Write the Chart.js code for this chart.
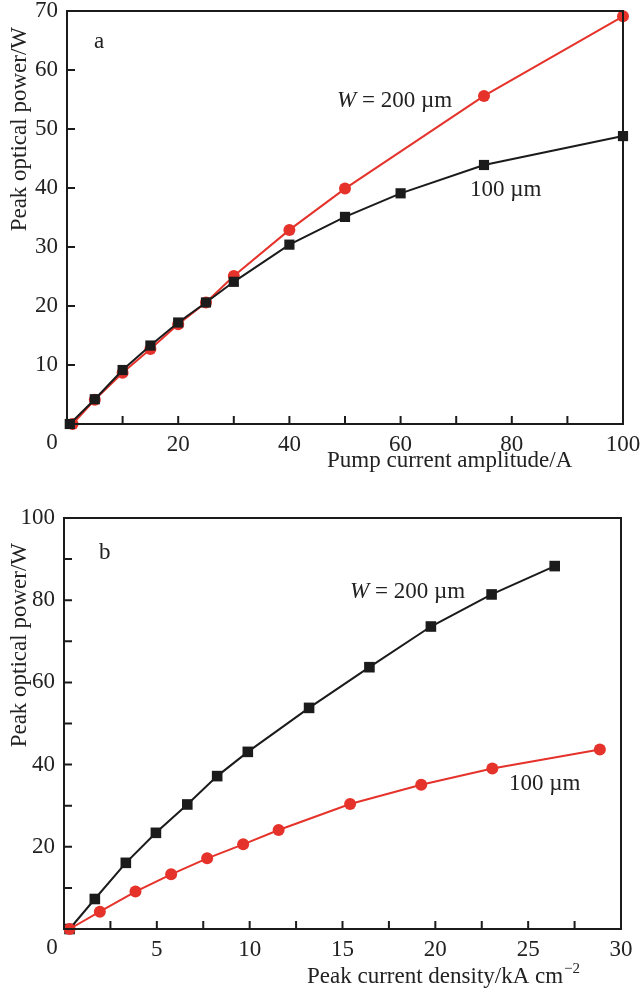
<!DOCTYPE html>
<html>
<head>
<meta charset="utf-8">
<script src="https://cdn.jsdelivr.net/npm/chart.js@4.4.1/dist/chart.umd.min.js"></script>
<style>
  html, body { margin: 0; padding: 0; background: #fff; }
  #wrap { position: relative; width: 640px; height: 990px; }
  .pane { position: absolute; left: 0; width: 640px; height: 495px; }
</style>
</head>
<body>
<div id="wrap">
  <div class="pane" style="top:0"><canvas id="cA" width="640" height="495"></canvas></div>
  <div class="pane" style="top:495px"><canvas id="cB" width="640" height="495"></canvas></div>
</div>
<script>
// ---------- Data: panel a ----------
const aX200 = [1, 5, 10, 15, 20, 25, 30, 40, 50, 75, 100];
const aY200 = [0, 4.1, 8.7, 12.7, 16.9, 20.6, 25.1, 32.9, 39.9, 55.6, 69.1];
const aX100 = [0.5, 5, 10, 15, 20, 25, 30, 40, 50, 60, 75, 100];
const aY100 = [0, 4.2, 9.15, 13.3, 17.2, 20.6, 24.1, 30.4, 35.1, 39.1, 43.9, 48.8];

// ---------- Data: panel b ----------
const bX200 = [0.3, 1.66, 3.33, 4.95, 6.64, 8.25, 9.9, 13.2, 16.45, 19.76, 23.03, 26.43];
const bY200 = [0, 7.3, 16.1, 23.4, 30.3, 37.2, 43.1, 53.8, 63.7, 73.6, 81.4, 88.3];
const bX100 = [0.3, 1.93, 3.85, 5.77, 7.71, 9.65, 11.56, 15.41, 19.24, 23.07, 28.86];
const bY100 = [0, 4.2, 9.1, 13.3, 17.2, 20.6, 24.1, 30.4, 35.1, 39.05, 43.7];

// ---------- Tick label settings ----------
const aXLabels = [20, 40, 60, 80, 100];
const aYLabels = [10, 20, 30, 40, 50, 60, 70];
const bXLabels = [5, 10, 15, 20, 25, 30];
const bYLabels = [20, 40, 60, 80, 100];

const RED = '#e5322a';
const BLACK = '#1b1b1b';
const TXT = '#222222';
const FONT = '"Liberation Serif", "Times New Roman", serif';
const FS = 23;

function pts(xs, ys) { return xs.map((x, i) => ({ x: x, y: ys[i] })); }

function frameTicks(o) {
  return {
    id: 'frameTicks',
    afterDatasetsDraw(chart) {
      const ctx = chart.ctx, a = chart.chartArea;
      const xs = chart.scales.x, ys = chart.scales.y;
      ctx.save();
      ctx.strokeStyle = BLACK;
      ctx.lineWidth = 2;
      ctx.strokeRect(a.left, a.top, a.right - a.left, a.bottom - a.top);
      ctx.beginPath();
      xs.ticks.forEach(t => {
        if (t.value <= xs.min || t.value >= xs.max) return;
        const px = xs.getPixelForValue(t.value);
        ctx.moveTo(px, a.bottom);
        ctx.lineTo(px, a.bottom - 8);
      });
      ys.ticks.forEach(t => {
        if (t.value <= ys.min || t.value >= ys.max) return;
        const py = ys.getPixelForValue(t.value);
        ctx.moveTo(a.left, py);
        ctx.lineTo(a.left + 8, py);
      });
      ctx.stroke();
      ctx.restore();
    },
    afterDraw(chart) {
      const ctx = chart.ctx;
      ctx.save();
      ctx.fillStyle = TXT;
      ctx.font = FS + 'px ' + FONT;
      // origin "0"
      ctx.textAlign = 'center';
      ctx.textBaseline = 'middle';
      ctx.fillText('0', o.zeroX, o.zeroY);
      // panel letter
      ctx.textAlign = 'left';
      ctx.textBaseline = 'alphabetic';
      ctx.fillText(o.letter, o.letterX, o.letterY);
      // x title
      ctx.fillText(o.xTitle, o.xTitleX, o.xTitleY);
      if (o.xSup) {
        const w = ctx.measureText(o.xTitle).width;
        ctx.font = '15px ' + FONT;
        ctx.fillText(o.xSup, o.xTitleX + w + 1, o.xTitleY - 10);
        ctx.font = FS + 'px ' + FONT;
      }
      // series annotations
      o.notes.forEach(n => {
        let x = n.x;
        if (n.italic) {
          ctx.font = 'italic ' + FS + 'px ' + FONT;
          ctx.fillText(n.italic, x, n.y);
          x += ctx.measureText(n.italic).width;
          ctx.font = FS + 'px ' + FONT;
        }
        ctx.fillText(n.text, x, n.y);
      });
      // y title (rotated)
      ctx.translate(o.yTitleX, o.yTitleTop);
      ctx.rotate(-Math.PI / 2);
      ctx.textAlign = 'right';
      ctx.fillText(o.yTitle, 0, 0);
      ctx.restore();
    }
  };
}

function noPad(s) { s.paddingLeft = 0; s.paddingRight = 0; s.paddingTop = 0; s.paddingBottom = 0; }

function makeChart(id, cfg) {
  return new Chart(document.getElementById(id), {
    type: 'line',
    data: { datasets: cfg.datasets },
    options: {
      responsive: false,
      animation: false,
      devicePixelRatio: 1,
      layout: { padding: { top: cfg.padTop, right: cfg.padRight, left: 0, bottom: 0 } },
      plugins: { legend: { display: false }, tooltip: { enabled: false }, title: { display: false } },
      scales: {
        x: {
          type: 'linear', min: cfg.xMin, max: cfg.xMax,
          afterFit: s => { s.height = cfg.xHeight; noPad(s); },
          grid: { display: false, drawTicks: false },
          border: { display: false },
          ticks: {
            stepSize: cfg.xStep, autoSkip: false, maxRotation: 0, padding: 7,
            color: TXT, font: { family: FONT, size: FS },
            callback: v => cfg.xLabels.includes(v) ? String(v) : ''
          }
        },
        y: {
          type: 'linear', min: cfg.yMin, max: cfg.yMax,
          afterFit: s => { s.width = cfg.yWidth; noPad(s); },
          grid: { display: false, drawTicks: false },
          border: { display: false },
          ticks: {
            stepSize: cfg.yStep, autoSkip: false, padding: 9,
            color: TXT, font: { family: FONT, size: FS },
            callback: v => cfg.yLabels.includes(v) ? String(v) : ''
          }
        }
      }
    },
    plugins: [frameTicks(cfg.deco)]
  });
}

function ds(label, data, color, style, r) {
  return {
    label: label, data: data, borderColor: color, backgroundColor: color,
    borderWidth: 2, tension: 0, clip: false,
    pointStyle: style, pointRadius: r, pointBorderWidth: 0, pointHoverRadius: r
  };
}

makeChart('cA', {
  datasets: [
    ds('100 µm', pts(aX100, aY100), BLACK, 'rect', 7.2),
    ds('W = 200 µm', pts(aX200, aY200), RED, 'circle', 6)
  ],
  xMin: 0, xMax: 100, xStep: 10, xLabels: aXLabels,
  yMin: 0, yMax: 70, yStep: 10, yLabels: aYLabels,
  padTop: 11, padRight: 17, yWidth: 67, xHeight: 71,
  deco: {
    zeroX: 52, zeroY: 443, letter: 'a', letterX: 94, letterY: 48,
    xTitle: 'Pump current amplitude/A', xTitleX: 327, xTitleY: 467,
    yTitle: 'Peak optical power/W', yTitleX: 26, yTitleTop: 27,
    notes: [
      { italic: 'W', text: ' = 200 µm', x: 337, y: 107 },
      { text: '100 µm', x: 470, y: 196 }
    ]
  }
});

makeChart('cB', {
  datasets: [
    ds('100 µm', pts(bX100, bY100), RED, 'circle', 6),
    ds('W = 200 µm', pts(bX200, bY200), BLACK, 'rect', 7.5)
  ],
  xMin: 0, xMax: 30, xStep: 2.5, xLabels: bXLabels,
  yMin: 0, yMax: 100, yStep: 10, yLabels: bYLabels,
  padTop: 23, padRight: 19, yWidth: 64, xHeight: 61,
  deco: {
    zeroX: 52, zeroY: 453, letter: 'b', letterX: 99, letterY: 64,
    xTitle: 'Peak current density/kA cm', xSup: '−2', xTitleX: 307, xTitleY: 488,
    yTitle: 'Peak optical power/W', yTitleX: 26, yTitleTop: 48,
    notes: [
      { italic: 'W', text: ' = 200 µm', x: 350, y: 103 },
      { text: '100 µm', x: 509, y: 295 }
    ]
  }
});
</script>
</body>
</html>
